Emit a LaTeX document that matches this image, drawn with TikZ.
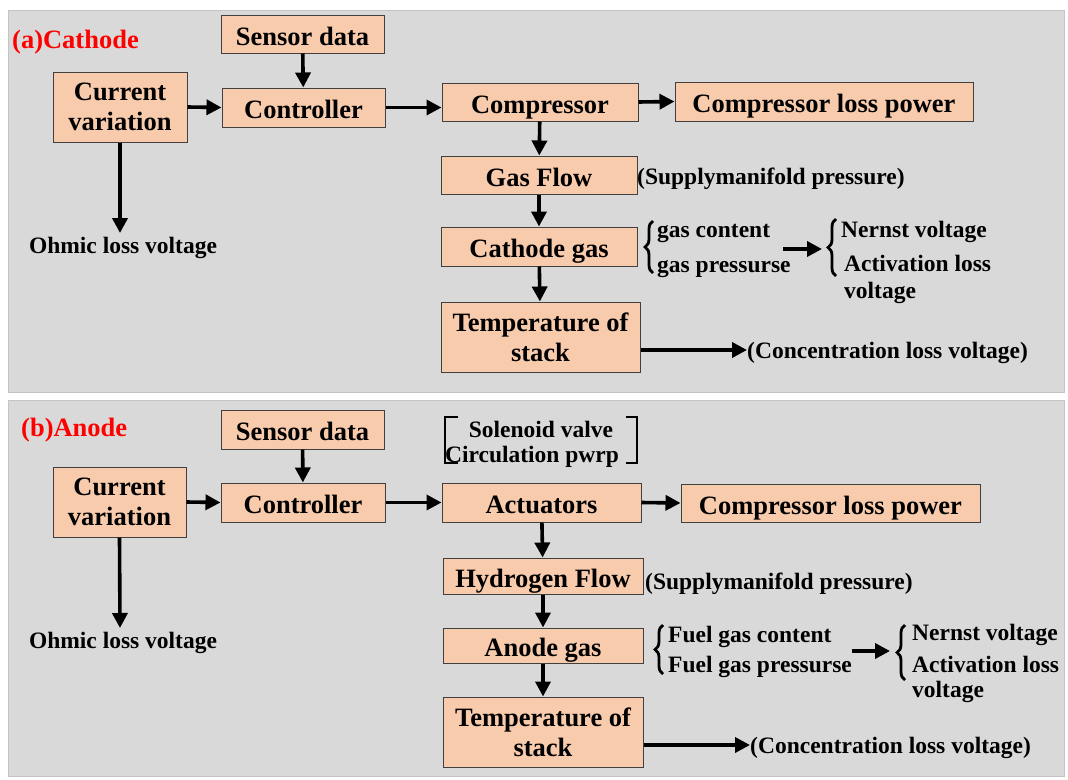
\documentclass[tikz,border=0pt]{standalone}
\usepackage{fontspec}
\setmainfont{Liberation Serif}
\usetikzlibrary{arrows.meta,decorations.pathreplacing}
\definecolor{panelbg}{HTML}{D9D9D9}
\definecolor{panelline}{HTML}{C4C4C4}
\definecolor{boxfill}{HTML}{F8CBAD}
\definecolor{boxline}{HTML}{404040}
\definecolor{titlered}{HTML}{FF0000}
\begin{document}
\begin{tikzpicture}[x=1pt,y=-1pt,
  panel/.style={draw=panelline,fill=panelbg,line width=1pt},
  box/.style={draw=boxline,fill=boxfill,line width=1pt,align=center,inner sep=0pt,
    font=\bfseries\fontsize{26.5}{30}\selectfont},
  one/.style={box,text height=22pt,text depth=0pt},
  lbl/.style={inner sep=0pt,yshift=-3pt,font=\bfseries\fontsize{23.5}{27}\selectfont},
  ttl/.style={inner sep=0pt,yshift=-2pt,text=titlered,font=\bfseries\fontsize{26.5}{30}\selectfont},
  arr/.style={line width=3.6pt,-{Triangle[length=15pt,width=15pt]}},
  brc/.style={line width=2.8pt,decorate,decoration={brace,amplitude=8pt}},
  brk/.style={line width=2.6pt}]
\useasboundingbox (0,0) rectangle (1068,779);
\fill[white] (0,0) rectangle (1068,779);

% ---------- (a) Cathode ----------
\draw[panel] (8,10) rectangle (1064,392);
\node[ttl,anchor=west] (tA) at (12,40) {(a)Cathode};

\node[one,minimum width=163pt,minimum height=38pt] (sensA) at (302.5,34) {Sensor data};
\node[one,minimum width=163pt,minimum height=39pt] (ctrlA) at (303.5,107.5) {Controller};
\node[box,minimum width=134pt,minimum height=70pt] (curA) at (120,107) {Current\\variation};
\node[lbl] (ohmA) at (123,245) {Ohmic loss voltage};
\node[one,minimum width=196pt,minimum height=38pt] (compA) at (540,102) {Compressor};
\node[one,minimum width=298pt,minimum height=39pt] (closA) at (824,101.5) {Compressor loss power};
\node[one,minimum width=196pt,minimum height=38pt] (flowA) at (539,175) {Gas Flow};
\node[lbl,anchor=west] (supA) at (637,176) {(Supplymanifold pressure)};
\node[one,minimum width=196pt,minimum height=39pt] (gasA) at (539,246.5) {Cathode gas};
\node[box,minimum width=199pt,minimum height=70pt] (tempA) at (540.5,337) {Temperature of\\stack};
\node[lbl,anchor=west] (concA) at (747,350) {(Concentration loss voltage)};

\node[lbl,anchor=west] (gcA) at (657,230) {gas content};
\node[lbl,anchor=west] (gpA) at (657,266) {gas pressurse};
\draw[brc] (653,273) -- (653,221);
\coordinate (ga0) at (783,249);
\coordinate (ga1) at (822,249);
\draw[brc] (836,276) -- (836,219);
\node[lbl,anchor=west] (neA) at (841,229) {Nernst voltage};
\node[lbl,anchor=west] (acA) at (844,260) {Activation loss};
\node[lbl,anchor=west] (voA) at (844,290) {voltage};

\draw[arr] (sensA) -- (ctrlA);
\draw[arr] (curA.east) -- (ctrlA.west);
\draw[arr] (ctrlA.east) -- (compA.west |- ctrlA.east);
\draw[arr] (compA.east) -- (closA.west);
\draw[arr] (curA.south) -- (120,233);
\draw[arr] (compA) -- (flowA);
\draw[arr] (flowA) -- (gasA);
\draw[arr] (gasA) -- (tempA);
\draw[arr] (tempA.east |- 0,350) -- (747,350);
\draw[arr] (ga0) -- (ga1);

% ---------- (b) Anode ----------
\draw[panel] (8,400) rectangle (1064,776);
\node[ttl,anchor=west] (tB) at (21,428) {(b)Anode};

\node[one,minimum width=163pt,minimum height=39pt] (sensB) at (302.5,429.5) {Sensor data};
\node[one,minimum width=164pt,minimum height=39pt] (ctrlB) at (303,502.5) {Controller};
\node[box,minimum width=133pt,minimum height=70pt] (curB) at (119.5,502) {Current\\variation};
\node[lbl] (ohmB) at (123,640) {Ohmic loss voltage};
\node[one,minimum width=199pt,minimum height=39pt] (actB) at (541.5,502.5) {Actuators};
\node[one,minimum width=299pt,minimum height=38pt] (closB) at (830.5,503) {Compressor loss power};
\node[one,minimum width=200pt,minimum height=36pt] (flowB) at (543,576) {Hydrogen Flow};
\node[lbl,anchor=west] (supB) at (645,581) {(Supplymanifold pressure)};
\node[one,minimum width=200pt,minimum height=35pt] (gasB) at (543,645.5) {Anode gas};
\node[box,minimum width=200pt,minimum height=70pt] (tempB) at (543,732) {Temperature of\\stack};
\node[lbl,anchor=west] (concB) at (750,745) {(Concentration loss voltage)};

\node[lbl] (solB) at (541,426) {Solenoid valve};
\node[lbl] (cirB) at (532,454) {Circulation pwrp};
\draw[brk] (458,417) -- (445,417) -- (445,463) -- (458,463);
\draw[brk] (626,417) -- (637,417) -- (637,463) -- (626,463);

\node[lbl,anchor=west] (gcB) at (668,634) {Fuel gas content};
\node[lbl,anchor=west] (gpB) at (668,664) {Fuel gas pressurse};
\draw[brc] (663,674) -- (663,625);
\coordinate (gb0) at (852,651);
\coordinate (gb1) at (890,651);
\draw[brc] (905,680) -- (905,625);
\node[lbl,anchor=west] (neB) at (912,632) {Nernst voltage};
\node[lbl,anchor=west] (acB) at (912,661) {Activation loss};
\node[lbl,anchor=west] (voB) at (912,689) {voltage};

\draw[arr] (sensB) -- (ctrlB);
\draw[arr] (curB.east) -- (ctrlB.west);
\draw[arr] (ctrlB.east) -- (actB.west);
\draw[arr] (actB.east) -- (closB.west);
\draw[arr] (curB.south) -- (120,628);
\draw[arr] (actB) -- (flowB);
\draw[arr] (flowB) -- (gasB);
\draw[arr] (gasB) -- (tempB);
\draw[arr] (tempB.east |- 0,745) -- (750,745);
\draw[arr] (gb0) -- (gb1);
\end{tikzpicture}
\end{document}
